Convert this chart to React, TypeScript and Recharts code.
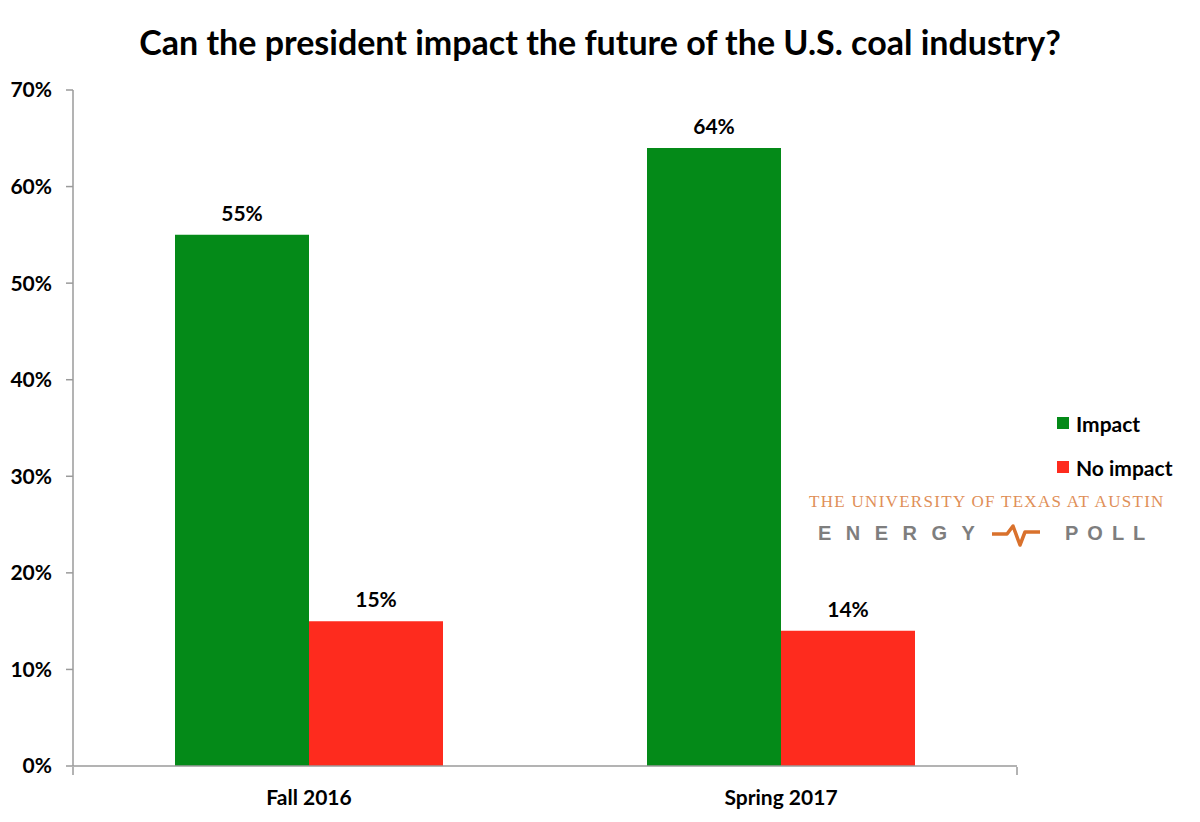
import React from 'react'
import {
	Bar,
	BarChart,
	LabelList,
	Legend,
	XAxis,
	YAxis,
} from 'recharts'

const periods = ['Fall 2016', 'Spring 2017']
const impact = [55, 64]
const noImpact = [15, 14]
const yTicks = [0, 10, 20, 30, 40, 50, 60, 70]
const edgeTicks = [0, 1, 2]

const seriesInfo = [
	{ key: 'impact', name: 'Impact', color: '#048a18' },
	{ key: 'noImpact', name: 'No impact', color: '#fe2b1e' },
]

const chartData = periods.map((period, i) => ({
	period,
	impact: impact[i],
	noImpact: noImpact[i],
}))

const FONT = 'Lato, "Open Sans", sans-serif'
const AXIS_GRAY = '#9a9a9a'

function pct(v: number | string) {
	return `${v}%`
}

function LegendBox() {
	return (
		<div style={{ fontFamily: FONT, fontWeight: 700, fontSize: 21, color: '#000' }}>
			{seriesInfo.map((s) => (
				<div
					key={s.key}
					style={{ display: 'flex', alignItems: 'center', height: 44 }}
				>
					<span
						style={{
							display: 'inline-block',
							width: 12,
							height: 12,
							background: s.color,
							marginRight: 7,
						}}
					/>
					{s.name}
				</div>
			))}
		</div>
	)
}

const logoWord = {
	position: 'absolute' as const,
	top: 522,
	fontFamily: '"Liberation Sans", Arial, sans-serif',
	fontWeight: 700,
	fontSize: 20,
	color: '#7e7e7e',
	whiteSpace: 'nowrap' as const,
}

function PollLogo() {
	return (
		<>
			<div
				style={{
					position: 'absolute',
					left: 809,
					top: 492,
					fontFamily: '"Liberation Serif", "DejaVu Serif", serif',
					fontSize: 17,
					letterSpacing: 1.3,
					color: '#df8f58',
					whiteSpace: 'nowrap',
				}}
			>
				THE UNIVERSITY OF TEXAS AT AUSTIN
			</div>
			<div style={{ ...logoWord, left: 818, letterSpacing: 14.5 }}>ENERGY</div>
			<svg
				width={52}
				height={26}
				style={{ position: 'absolute', left: 990, top: 522 }}
			>
				<path
					d="M2 12 L17 12 L23 4 L30 23 L35 10 L50 10"
					fill="none"
					stroke="#d9712c"
					strokeWidth={3.5}
					strokeLinejoin="round"
				/>
			</svg>
			<div style={{ ...logoWord, left: 1065, letterSpacing: 9 }}>POLL</div>
		</>
	)
}

export default function App() {
	return (
		<div
			style={{
				position: 'absolute',
				left: 0,
				top: 0,
				width: 1200,
				height: 822,
				background: '#fff',
				fontFamily: FONT,
			}}
		>
			<div
				style={{
					position: 'absolute',
					top: 21,
					left: 0,
					width: 1200,
					textAlign: 'center',
					fontWeight: 700,
					fontSize: 34,
					color: '#000',
				}}
			>
				Can the president impact the future of the U.S. coal industry?
			</div>
			<BarChart
				width={1200}
				height={822}
				data={chartData}
				margin={{ top: 90, right: 183, bottom: 0, left: 0 }}
				barGap={0}
			>
				<XAxis
					dataKey="period"
					height={1}
					tickLine={false}
					axisLine={{ stroke: AXIS_GRAY, strokeWidth: 1.5 }}
					tick={{ fill: '#000', fontSize: 21, fontWeight: 700, fontFamily: FONT }}
					tickMargin={18}
				/>
				<XAxis
					xAxisId="edges"
					type="number"
					domain={[0, 2]}
					ticks={edgeTicks}
					interval={0}
					axisLine={false}
					tickSize={8}
					tickLine={{ stroke: AXIS_GRAY, strokeWidth: 1.5 }}
					tick={() => <g />}
					height={55}
				/>
				<YAxis
					width={73}
					domain={[0, 70]}
					ticks={yTicks}
					tickFormatter={pct}
					tickSize={7}
					tickMargin={14}
					tickLine={{ stroke: AXIS_GRAY, strokeWidth: 1.5 }}
					axisLine={{ stroke: AXIS_GRAY, strokeWidth: 1.5 }}
					tick={{ fill: '#000', fontSize: 21, fontWeight: 700, fontFamily: FONT }}
				/>
				<Legend
					layout="horizontal"
					verticalAlign="middle"
					align="center"
					wrapperStyle={{ position: 'absolute', left: 1057, top: 401, width: 140 }}
					content={() => <LegendBox />}
				/>
				{seriesInfo.map((s) => (
					<Bar
						key={s.key}
						dataKey={s.key}
						name={s.name}
						fill={s.color}
						barSize={134}
						isAnimationActive={false}
					>
						<LabelList
							dataKey={s.key}
							position="top"
							offset={14}
							formatter={pct}
							fill="#000"
							fontSize={21}
							fontWeight={700}
							fontFamily={FONT}
						/>
					</Bar>
				))}
			</BarChart>
			<PollLogo />
		</div>
	)
}
